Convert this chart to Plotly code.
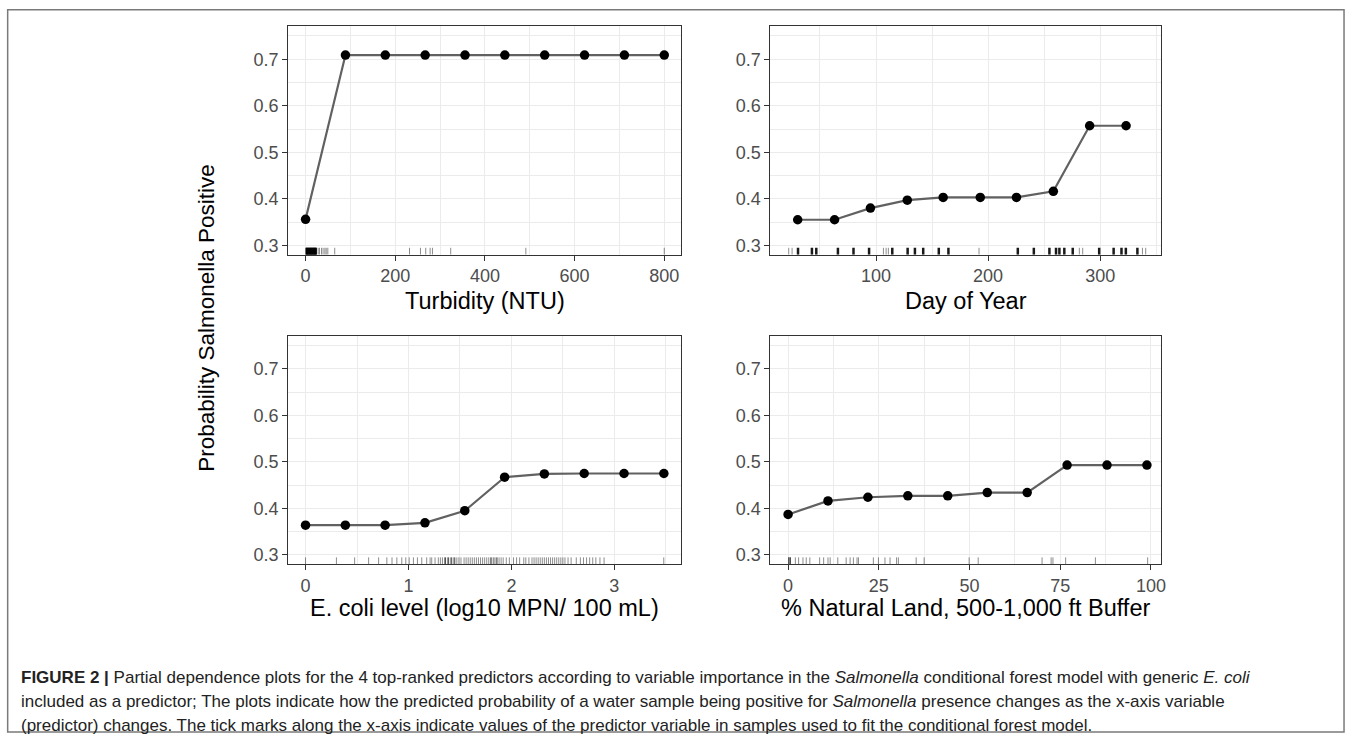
import plotly.graph_objects as go

W, H = 1357, 737

# ---------------- data ----------------
turb_x = [0, 88.9, 177.8, 266.7, 355.6, 444.4, 533.3, 622.2, 711.1, 800]
turb_y = [0.356, 0.709, 0.709, 0.709, 0.709, 0.709, 0.709, 0.709, 0.709, 0.709]
turb_rug_dark = [1, 2, 3, 4, 5, 6, 7, 8, 9, 10, 11, 12, 13, 14, 15, 16, 17, 18, 19, 20, 21, 22, 23, 24]
turb_rug_light = [28, 31, 35.5, 39, 43, 46, 49.6, 65, 231.8, 256.2, 268, 277.8, 283, 323.7, 491.3, 800]

day_x = [30.1, 63, 95, 127.9, 159.9, 193, 225.3, 258.2, 290.6, 323.1]
day_y = [0.355, 0.355, 0.380, 0.397, 0.403, 0.403, 0.403, 0.416, 0.557, 0.557]
day_rug_dark = [30.4, 42.8, 46.7, 66, 79.9, 93.8, 114.5, 128.2, 134.7, 142.1, 156, 164.6,
                226.5, 240.8, 254.7, 260.6, 263.6, 268, 275.5, 299.1, 312, 319, 322.9, 333.2]
day_rug_light = [22.1, 25.1, 106.6, 109, 111, 191.9, 281.4, 284.4, 337.7, 340.6]

ecoli_x = [0, 0.387, 0.773, 1.160, 1.547, 1.934, 2.320, 2.707, 3.094, 3.481]
ecoli_y = [0.364, 0.364, 0.364, 0.369, 0.395, 0.467, 0.474, 0.475, 0.475, 0.475]
ecoli_rug_dark = [1.36, 1.39, 1.42, 1.45, 1.80, 1.83, 1.86]
ecoli_rug_light = [0, 0.30, 0.477, 0.613, 0.71, 0.79, 0.84, 0.887, 0.935, 0.974, 1.007, 1.048,
                   1.087, 1.129, 1.177, 1.21, 1.226, 1.258, 1.29, 1.31, 1.33, 1.35, 1.38, 1.41,
                   1.44, 1.47, 1.49, 1.51, 1.54, 1.56, 1.58, 1.60, 1.62, 1.64, 1.66, 1.68, 1.70,
                   1.72, 1.74, 1.76, 1.78, 1.81, 1.85, 1.88, 1.90, 1.92, 1.95, 1.98, 2.02, 2.05,
                   2.08, 2.12, 2.14, 2.17, 2.20, 2.22, 2.24, 2.26, 2.28, 2.30, 2.32, 2.34, 2.36,
                   2.38, 2.40, 2.42, 2.44, 2.46, 2.48, 2.50, 2.52, 2.55, 2.58, 2.63, 2.67, 2.70,
                   2.73, 2.76, 2.79, 2.82, 2.86, 2.90, 3.48]

nat_x = [0, 11.0, 22.0, 33.0, 44.0, 54.9, 65.9, 76.9, 87.9, 98.9]
nat_y = [0.387, 0.416, 0.424, 0.427, 0.427, 0.434, 0.434, 0.493, 0.493, 0.493]
nat_rug_dark = [0.2, 0.6]
nat_rug_light = [2, 2.9, 4.1, 5, 6, 8.7, 9.8, 11, 11.6, 13.7, 16, 17.1, 18, 19, 19.4, 23.5, 24.9,
                 26.7, 28.1, 29.9, 30.4, 35.3, 37.5, 49.9, 52.4, 70, 72.5, 73, 76.5, 84.7, 99.1]

x_titles = ["Turbidity (NTU)", "Day of Year", "E. coli level (log10 MPN/ 100 mL)",
            "% Natural Land, 500-1,000 ft Buffer"]
y_title = "Probability Salmonella Positive"
y_ticks = [0.3, 0.4, 0.5, 0.6, 0.7]

caption_lines = [
    "<b>FIGURE 2 |</b> Partial dependence plots for the 4 top-ranked predictors according to variable importance in the "
    "<i>Salmonella</i> conditional forest model with generic <i>E. coli</i>",
    "included as a predictor; The plots indicate how the predicted probability of a water sample being positive for "
    "<i>Salmonella</i> presence changes as the x-axis variable",
    "(predictor) changes. The tick marks along the x-axis indicate values of the predictor variable in samples used to "
    "fit the conditional forest model.",
]

# ---------------- layout geometry (pixels) ----------------
YR = [0.28, 0.7715]
panels = [
    dict(x=turb_x, y=turb_y, rd=turb_rug_dark, rl=turb_rug_light, xr=[-38.7, 838.4],
         dtick=200, px=(289.3, 684), py=(26, 255), rdw=1.2, rdc="rgba(0,0,0,0.9)"),
    dict(x=day_x, y=day_y, rd=day_rug_dark, rl=day_rug_light, xr=[5.8, 354],
         dtick=100, px=(773.3, 1165), py=(26, 255), rdw=2.5, rdc="rgba(0,0,0,0.9)"),
    dict(x=ecoli_x, y=ecoli_y, rd=ecoli_rug_dark, rl=ecoli_rug_light, xr=[-0.168, 3.652],
         dtick=1, px=(289.3, 684), py=(336, 565), rdw=1.0, rdc="rgba(0,0,0,0.7)"),
    dict(x=nat_x, y=nat_y, rd=nat_rug_dark, rl=nat_rug_light, xr=[-4.86, 102.7],
         dtick=25, px=(773.3, 1165), py=(336, 565), rdw=1.2, rdc="rgba(0,0,0,0.8)"),
]

FONT = "Liberation Sans, Arial, sans-serif"
GRID = "#ebebeb"
FRAME = "#333333"

fig = go.Figure()
layout = dict(width=W, height=H, autosize=False, margin=dict(l=0, r=0, t=0, b=0),
              paper_bgcolor="white", plot_bgcolor="white", showlegend=False,
              font=dict(family=FONT, color="#4d4d4d", size=18))
annotations = []


def rug_xy(vals, y0, y1):
    xs, ys = [], []
    for v in vals:
        xs += [v, v, None]
        ys += [y0, y1, None]
    return xs, ys


for i, p in enumerate(panels):
    k = "" if i == 0 else str(i + 1)
    xa, ya = "x" + k, "y" + k
    ry0 = YR[0]
    ry1 = YR[0] + 0.03 * (YR[1] - YR[0])
    for vals, col, w in ((p["rl"], "rgba(0,0,0,0.5)", 0.9), (p["rd"], p["rdc"], p["rdw"])):
        rx, ryv = rug_xy(vals, ry0, ry1)
        fig.add_trace(go.Scatter(x=rx, y=ryv, mode="lines", line=dict(color=col, width=w),
                                 xaxis=xa, yaxis=ya, hoverinfo="skip", cliponaxis=False))
    fig.add_trace(go.Scatter(x=p["x"], y=p["y"], mode="lines+markers",
                             line=dict(color="#616161", width=2.2),
                             marker=dict(color="black", size=9.5),
                             xaxis=xa, yaxis=ya))
    x0, x1 = p["px"]
    y0, y1 = p["py"]
    common = dict(showline=True, mirror=True, linecolor=FRAME, linewidth=1.2,
                  ticks="outside", ticklen=5, tickwidth=1.1, tickcolor=FRAME,
                  showgrid=True, gridcolor=GRID, gridwidth=1.1, zeroline=False,
                  tickfont=dict(family=FONT, size=18, color="#4d4d4d"))
    layout["xaxis" + k] = dict(domain=[x0 / W, x1 / W], range=p["xr"], anchor=ya,
                               tick0=0, dtick=p["dtick"],
                               minor=dict(dtick=p["dtick"] / 2, showgrid=True,
                                          gridcolor=GRID, gridwidth=0.6, ticks=""),
                               **common)
    layout["yaxis" + k] = dict(domain=[1 - y1 / H, 1 - y0 / H], range=YR, anchor=xa,
                               tick0=0.3, dtick=0.1, tickformat=".1f",
                               minor=dict(dtick=0.05, showgrid=True,
                                          gridcolor=GRID, gridwidth=0.6, ticks=""),
                               **common)
    ty = 301 if i < 2 else 609
    annotations.append(dict(text=x_titles[i], x=(x0 + x1) / 2 / W, y=1 - ty / H,
                            xref="paper", yref="paper", xanchor="center", yanchor="middle",
                            showarrow=False, font=dict(family=FONT, size=23.5, color="black")))

annotations.append(dict(text=y_title, x=207 / W, y=1 - 318 / H, xref="paper", yref="paper",
                        xanchor="center", yanchor="middle", textangle=-90, showarrow=False,
                        font=dict(family=FONT, size=22.5, color="black")))

for j, line in enumerate(caption_lines):
    annotations.append(dict(text=line, x=19 / W, y=1 - (678 + 24 * j) / H,
                            xref="paper", yref="paper", xanchor="left", yanchor="middle",
                            align="left", showarrow=False,
                            font=dict(family=FONT, size=17, color="#222222")))

layout["annotations"] = annotations
layout["shapes"] = [dict(type="rect", xref="paper", yref="paper",
                         x0=7.7 / W, x1=1349 / W, y0=1 - 733 / H, y1=1 - 9.7 / H,
                         line=dict(color="#7a7a7a", width=1.5), fillcolor="rgba(0,0,0,0)",
                         layer="below")]

fig.update_layout(**layout)
fig.write_html("out.html", config={"displayModeBar": False},
               post_script="document.body.style.margin='0';document.body.style.overflow='hidden';")
